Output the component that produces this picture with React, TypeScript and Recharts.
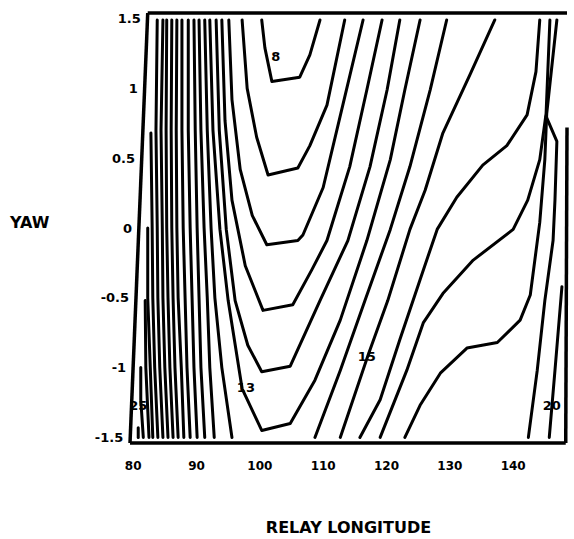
import { ComposedChart, Line, Scatter, XAxis, YAxis, ReferenceLine } from 'recharts';

// tick values
const xTicks = [80, 90, 100, 110, 120, 130, 140];
const yTicks = [-1.5, -1, -0.5, 0, 0.5, 1, 1.5];

// contour lines, [longitude, yaw] pairs
// closed valley curves (8..13)
const c8 = [[100.3, 1.49], [100.8, 1.29], [101.9, 1.05], [106.3, 1.08], [107.9, 1.24], [109.5, 1.49]];
const c9 = [[97.2, 1.49], [98.0, 1.0], [99.5, 0.65], [101.3, 0.38], [106.0, 0.43], [107.9, 0.59], [110.6, 0.88], [113.4, 1.49]];
const c10 = [[95.1, 1.49], [95.6, 0.92], [96.9, 0.42], [98.8, 0.09], [101.1, -0.12], [106.0, -0.09], [106.8, -0.05], [110.0, 0.29], [113.1, 0.88], [116.3, 1.49]];
const c11 = [[94.0, 1.49], [94.5, 0.77], [95.6, 0.2], [97.7, -0.27], [100.5, -0.59], [105.2, -0.55], [108.2, -0.3], [110.6, -0.09], [114.2, 0.44], [116.9, 0.99], [119.3, 1.49]];
const c12 = [[93.1, 1.49], [93.6, 0.7], [94.7, -0.01], [96.1, -0.52], [98.1, -0.84], [100.3, -1.03], [104.8, -0.99], [109.5, -0.52], [113.9, -0.09], [117.4, 0.44], [120.1, 0.99], [122.1, 1.49]];
const c13 = [[92.1, 1.49], [92.6, 0.7], [93.7, -0.01], [95.0, -0.52], [97.2, -1.15], [100.3, -1.45], [104.8, -1.4], [108.7, -1.09], [112.7, -0.66], [116.9, -0.09], [120.6, 0.49], [122.9, 0.99], [125.3, 1.49]];

// east side
const c14 = [[129.5, 1.49], [126.9, 0.99], [123.7, 0.44], [120.6, -0.01], [116.6, -0.52], [112.7, -1.02], [108.7, -1.5]];
const c15 = [[137.1, 1.49], [133.2, 1.1], [128.9, 0.68], [126.1, 0.27], [123.7, -0.01], [120.2, -0.52], [117.1, -0.91], [112.7, -1.5]];
const c16 = [[144.2, 1.49], [143.6, 1.12], [142.2, 0.81], [139.0, 0.59], [135.2, 0.45], [131.1, 0.22], [128.0, -0.01], [125.3, -0.37], [122.1, -0.8], [119.0, -1.23], [115.8, -1.5]];
const c17 = [[145.8, 1.49], [145.2, 0.82], [144.2, 0.49], [142.3, 0.2], [140.0, -0.01], [133.7, -0.23], [128.9, -0.47], [125.8, -0.68], [123.2, -1.02], [119.0, -1.5]];
const c18 = [[146.9, 1.49], [145.3, 0.82], [145.0, 0.49], [144.2, 0.04], [142.7, -0.48], [141.1, -0.66], [137.5, -0.82], [132.7, -0.86], [128.5, -1.04], [125.3, -1.27], [122.9, -1.5]];
const c19 = [[145.2, 0.8], [146.9, 0.62], [146.6, 0.2], [146.3, -0.09], [145.0, -0.52], [143.8, -1.02], [142.4, -1.5]];
const c20 = [[147.7, -0.42], [146.6, -1.02], [145.7, -1.5]];

// west side, dense lines
const w14 = [[91.3, 1.49], [91.7, 0.7], [92.3, 0], [92.9, -0.5], [94.0, -1], [95.6, -1.5]];
const w15 = [[90.4, 1.49], [90.7, 0.7], [91.2, 0], [91.7, -0.5], [92.1, -1], [92.8, -1.5]];
const w16 = [[89.6, 1.49], [89.8, 0.7], [90.1, 0], [90.4, -0.5], [90.7, -1], [91.3, -1.5]];
const w17 = [[88.7, 1.49], [88.7, 0.7], [89.0, 0], [89.3, -0.5], [89.6, -1], [90.1, -1.5]];
const w18 = [[87.7, 1.49], [87.7, 0.7], [87.9, 0], [88.2, -0.5], [88.5, -1], [89.0, -1.5]];
const w19 = [[86.9, 1.49], [86.8, 0.7], [86.9, 0], [87.1, -0.5], [87.6, -1], [88.0, -1.5]];
const w20 = [[86.1, 1.49], [86.0, 0.7], [86.1, 0], [86.3, -0.5], [86.6, -1], [87.1, -1.5]];
const w21 = [[85.3, 1.49], [85.2, 0.7], [85.3, 0], [85.5, -0.5], [85.8, -1], [86.3, -1.5]];
const w22 = [[84.7, 1.49], [84.4, 0.7], [84.6, 0], [84.7, -0.5], [85.0, -1], [85.5, -1.5]];
const w23 = [[83.8, 1.49], [83.6, 0.7], [83.8, 0], [83.9, -0.5], [84.2, -1], [84.7, -1.5]];
const w24 = [[82.8, 0.68], [83.0, 0], [83.1, -0.5], [83.4, -1], [83.9, -1.5]];
const w25 = [[82.3, 0], [82.3, -0.5], [82.7, -1], [83.1, -1.5]];
const w26 = [[81.9, -0.52], [82.0, -1], [82.5, -1.5]];
const w27 = [[81.2, -1.0], [81.2, -1.23], [81.6, -1.5]];
const w28 = [[80.8, -1.43], [80.8, -1.5]];

// contour labels
const labelText = ['8', '13', '15', '20', '25'];
const labelX = [102.5, 97.8, 116.9, 146.1, 80.8];
const labelY = [1.23, -1.14, -0.92, -1.27, -1.27];

// plot frame (scanned box is skewed, open at upper right)
const frameTop = [[82.3, 1.54], [148.5, 1.54]];
const frameLeft = [[82.3, 1.54], [79.5, -1.54]];
const frameBottom = [[79.5, -1.54], [148.3, -1.54]];
const frameRight = [[148.5, 0.72], [148.3, -1.54]];

const contours = [
  c8, c9, c10, c11, c12, c13, c14, c15, c16, c17, c18, c19, c20,
  w14, w15, w16, w17, w18, w19, w20, w21, w22, w23, w24, w25, w26, w27, w28,
];

const toPts = (a: number[][]) => a.map(([x, y]) => ({ x, y }));

const labelPts = labelText.map((text, i) => ({ x: labelX[i], y: labelY[i], text }));

const FONT = 'DejaVu Sans';

const YTick = (props: any) => {
  const { y, payload } = props;
  // follow the slanted left edge of the frame
  const xr = 123 + (443 - y) * 0.042;
  return (
    <text x={xr} y={y} textAnchor="end" dominantBaseline="central" fontSize={13} fontWeight="bold" fontFamily={FONT} fill="#000">
      {payload.value}
    </text>
  );
};

const LabelMark = (props: any) => (
  <text x={props.cx} y={props.cy} textAnchor="middle" dominantBaseline="central" fontSize={13} fontWeight="bold" fontFamily={FONT} fill="#000">
    {props.payload.text}
  </text>
);

export default function App() {
  return (
    <div style={{ position: 'absolute', left: 0, top: 0, background: '#fff' }}>
      <ComposedChart width={574} height={539} margin={{ top: 13, right: 7, left: 0, bottom: 0 }}>
        <XAxis
          type="number"
          dataKey="x"
          domain={[79.5, 148.5]}
          ticks={xTicks}
          allowDataOverflow
          height={96}
          axisLine={false}
          tickLine={false}
          tickMargin={12}
          tick={{ fontSize: 12, fontWeight: 'bold', fontFamily: FONT, fill: '#000' }}
          label={{ value: 'RELAY LONGITUDE', position: 'insideBottom', offset: 6, fontSize: 16, fontWeight: 'bold', fontFamily: FONT, fill: '#000' }}
        />
        <YAxis
          type="number"
          dataKey="y"
          domain={[-1.54, 1.54]}
          ticks={yTicks}
          allowDataOverflow
          width={130}
          axisLine={false}
          tickLine={false}
          tick={<YTick />}
          label={{ value: 'YAW', position: 'insideLeft', offset: 10, dy: -6, fontSize: 16, fontWeight: 'bold', fontFamily: FONT, fill: '#000' }}
        />
        {[frameTop, frameLeft, frameBottom, frameRight].map((f, i) => (
          <ReferenceLine key={'f' + i} segment={toPts(f)} stroke="#000" strokeWidth={3.5} ifOverflow="visible" />
        ))}
        {contours.map((c, i) => (
          <Line
            key={'c' + i}
            data={toPts(c)}
            dataKey="y"
            type="linear"
            stroke="#000"
            strokeWidth={3}
            strokeLinejoin="round"
            strokeLinecap="round"
            dot={false}
            activeDot={false}
            isAnimationActive={false}
          />
        ))}
        <Scatter data={labelPts} dataKey="y" shape={<LabelMark />} isAnimationActive={false} />
      </ComposedChart>
    </div>
  );
}
